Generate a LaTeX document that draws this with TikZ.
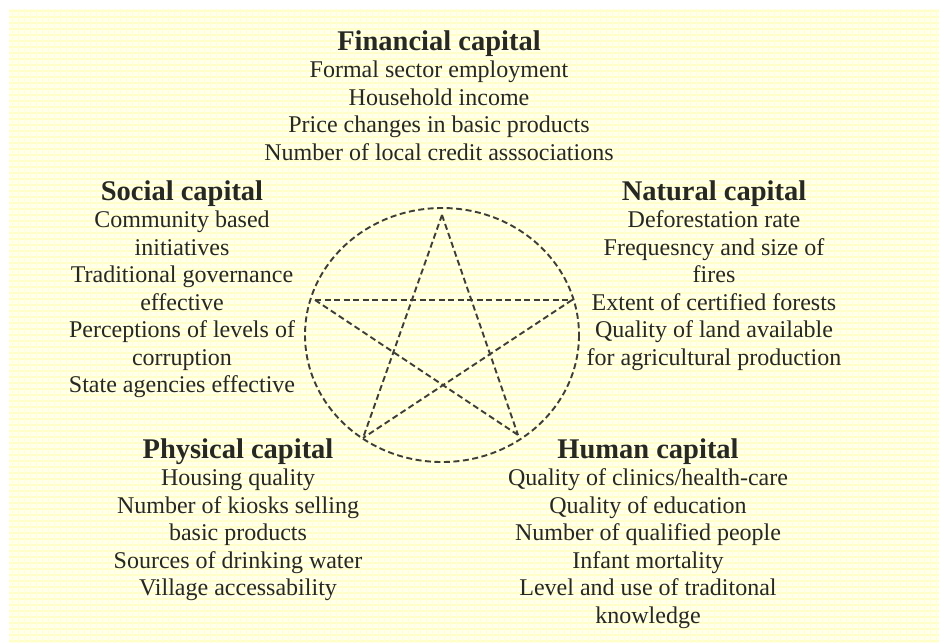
\documentclass[tikz,border=0pt]{standalone}
\usepackage{fontspec}
\setmainfont{Liberation Serif}
\definecolor{paper}{RGB}{255,255,234}
\definecolor{ruling}{RGB}{255,254,198}
\definecolor{ink}{RGB}{40,40,34}
\definecolor{starline}{RGB}{62,62,55}
\tikzset{
  heading/.style={anchor=base, text=ink, inner sep=0pt,
    font=\fontsize{28.5}{30}\selectfont\bfseries},
  item/.style={anchor=base, text=ink, inner sep=0pt,
    font=\fontsize{24}{27.5}\selectfont},
  dashedline/.style={draw=starline, line width=1.9pt,
    dash pattern=on 6pt off 3.5pt},
}
\begin{document}
\begin{tikzpicture}[x=1pt, y=-1pt]
\useasboundingbox (0,0) rectangle (939,643);
% ruled paper background
\fill[white] (0,0) rectangle (939,643);
\fill[paper] (9,9) rectangle (939,643);
\foreach \yy in {11,17,...,641} \draw[ruling, line width=1.4pt] (9,\yy) -- (939,\yy);
\foreach \xx in {12,18,...,936} \draw[ruling!50!paper, line width=1pt] (\xx,9) -- (\xx,643);

% circle and pentagram
\draw[dashedline] (442,335) ellipse [x radius=137, y radius=127];
\coordinate (ptop) at (442,215);
\coordinate (pleft) at (315,300);
\coordinate (pright) at (572,300);
\coordinate (pbl) at (363,438);
\coordinate (pbr) at (518,435);
\draw[dashedline] (ptop) -- (pbl);
\draw[dashedline] (ptop) -- (pbr);
\draw[dashedline] (pleft) -- (pright);
\draw[dashedline] (pleft) -- (pbr);
\draw[dashedline] (pright) -- (pbl);

% Financial capital
\node[heading] (fin) at (439,50) {Financial capital};
\foreach \t [count=\i] in {Formal sector employment, Household income,
    Price changes in basic products, Number of local credit asssociations}
  \node[item] (fin\i) at (439,50+27.5*\i) {\t};

% Social capital
\node[heading] (soc) at (182,200) {Social capital};
\foreach \t [count=\i] in {Community based, initiatives,
    Traditional governance, effective, Perceptions of levels of,
    corruption, State agencies effective}
  \node[item] (soc\i) at (182,200+27.5*\i) {\t};

% Natural capital
\node[heading] (nat) at (714,200) {Natural capital};
\foreach \t [count=\i] in {Deforestation rate, Frequesncy and size of,
    fires, Extent of certified forests, Quality of land available,
    for agricultural production}
  \node[item] (nat\i) at (714,200+27.5*\i) {\t};

% Physical capital
\node[heading] (phy) at (238,458) {Physical capital};
\foreach \t [count=\i] in {Housing quality, Number of kiosks selling,
    basic products, Sources of drinking water, Village accessability}
  \node[item] (phy\i) at (238,458+27.5*\i) {\t};

% Human capital
\node[heading] (hum) at (648,458) {Human capital};
\foreach \t [count=\i] in {Quality of clinics/health-care,
    Quality of education, Number of qualified people, Infant mortality,
    Level and use of traditonal, knowledge}
  \node[item] (hum\i) at (648,458+27.5*\i) {\t};
\end{tikzpicture}
\end{document}
